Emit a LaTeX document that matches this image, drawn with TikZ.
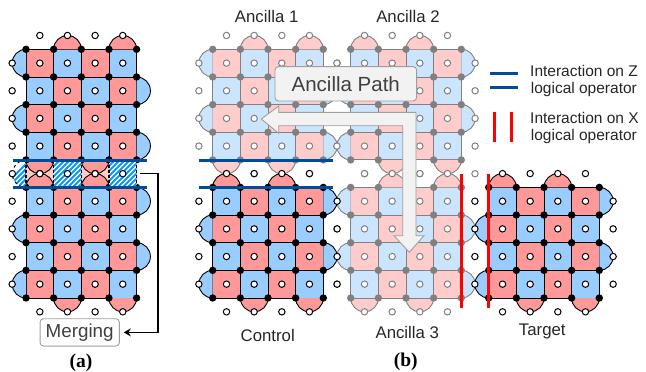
\documentclass[tikz,border=0pt]{standalone}
\usepackage{fontspec}
\setmainfont{Liberation Sans}
\newfontfamily\capfont{Liberation Serif}
\usetikzlibrary{arrows.meta}
\definecolor{patchred}{HTML}{FF9999}
\definecolor{patchblue}{HTML}{99CCFF}
\definecolor{palered}{HTML}{FFCCCC}
\definecolor{paleblue}{HTML}{CCE5FF}
\definecolor{edgegray}{HTML}{808080}
\definecolor{zblue}{HTML}{004C99}
\definecolor{boxfill}{HTML}{F2F2F2}
\definecolor{boxtext}{HTML}{404040}
\definecolor{hatchblue}{HTML}{0A96FF}
\tikzset{
  dataq/.style={circle,draw=#1,fill=white,line width=1pt,minimum size=6.4pt,inner sep=0pt},
  measq/.style={circle,fill=#1,minimum size=7.4pt,inner sep=0pt},
  zline/.style={zblue,line width=3pt},
  xline/.style={red,line width=3pt},
  label/.style={text=black!85,font=\fontsize{16.8}{18}\selectfont},
  legendtext/.style={text=black!85,font=\fontsize{15.5}{17}\selectfont,anchor=west,inner sep=0pt},
  subcap/.style={font=\capfont\bfseries\fontsize{19.5}{21}\selectfont},
  hatchline/.style={hatchblue,line width=2pt},
  pathbox/.style={draw=black!38,fill=boxfill,rounded corners=3.5pt,line width=0.9pt,text=boxtext,inner sep=0pt},
  mergearrow/.style={-{Stealth[length=7pt,width=8pt]},line width=1.6pt,shorten >=4pt}
}
\newcommand{\qstep}{27.65}
\newcommand{\qhalf}{13.82}
% x0, y0, parity, red, blue, edge
\newcommand{\surfacepatch}[6]{
  \foreach \rowi in {0,...,3} {
    \foreach \coli in {0,...,3} {
      \pgfmathtruncatemacro{\cellkind}{mod(\rowi+\coli+#3,2)}
      \ifnum\cellkind=0 \def\cellcol{#4}\else\def\cellcol{#5}\fi
      \draw [#6,fill=\cellcol,line width=0.9pt] ({#1+\coli*\qstep},{-#2-\rowi*\qstep}) rectangle ++(\qstep,-\qstep);
    }
    \pgfmathtruncatemacro{\sidekind}{mod(\rowi+#3,2)}
    \ifnum\sidekind=0
      \draw [#6,fill=#5,line width=0.9pt] ({#1},{-#2-\rowi*\qstep}) arc [start angle=90,end angle=270,radius=\qhalf pt];
      \draw [#6,fill=#4,line width=0.9pt] ({#1+\rowi*\qstep},{-#2-4*\qstep}) arc [start angle=180,end angle=360,radius=\qhalf pt];
    \else
      \draw [#6,fill=#5,line width=0.9pt] ({#1+4*\qstep},{-#2-\rowi*\qstep}) arc [start angle=90,end angle=-90,radius=\qhalf pt];
      \draw [#6,fill=#4,line width=0.9pt] ({#1+\rowi*\qstep},{-#2}) arc [start angle=180,end angle=0,radius=\qhalf pt];
    \fi
  }
  \foreach \rowi in {0,...,4} {
    \foreach \coli in {0,...,4} {
      \node [measq=#6] at ({#1+\coli*\qstep},{-#2-\rowi*\qstep}) {};
    }
  }
  \foreach \rowi in {0,...,3} {
    \node [dataq=#6] at ({#1-\qhalf},{-#2-\qhalf-\rowi*\qstep}) {};
    \node [dataq=#6] at ({#1+\qhalf+\rowi*\qstep},{-#2+\qhalf}) {};
    \node [dataq=#6] at ({#1+\qhalf+\rowi*\qstep},{-#2-4*\qstep-\qhalf}) {};
    \foreach \coli in {0,...,3} {
      \node [dataq=#6] at ({#1+\qhalf+\coli*\qstep},{-#2-\qhalf-\rowi*\qstep}) {};
    }
  }
}
\newcommand{\rightdots}[3]{
  \foreach \rowi in {0,...,3} {
    \node [dataq=#3] at ({#1+4*\qstep+\qhalf},{-#2-\qhalf-\rowi*\qstep}) {};
  }
}
\begin{document}
\begin{tikzpicture}[x=1pt,y=1pt]
  \useasboundingbox (0,0) rectangle (646,-372);

  % (a)
  \fill [palered] (26,-160) rectangle (136.6,-187.5);
  \surfacepatch{26}{49.3}{0}{patchred}{patchblue}{black}
  \surfacepatch{26}{187.4}{1}{patchred}{patchblue}{black}
  \fill [white] (53.65,-160) rectangle ++(27.65,-27.4);
  \fill [white] (108.95,-160) rectangle ++(27.65,-27.4);
  \fill [white] (26,-160) arc [start angle=90,end angle=270,radius=13.75pt];
  \begin{scope}
    \clip (53.65,-160) rectangle ++(27.65,-27.4) (108.95,-160) rectangle ++(27.65,-27.4)
      (26,-160) arc [start angle=90,end angle=270,radius=13.75pt];
    \foreach \hatchx in {0,5,...,170} {
      \draw [hatchline] ({\hatchx},-190) -- ++(33,33);
    }
  \end{scope}
  \draw [black,dashed,line width=0.9pt] (26,-160) arc [start angle=90,end angle=270,radius=13.75pt];
  \foreach \coli in {0,...,4} {
    \draw [black,line width=1.2pt,dash pattern=on 3pt off 2pt] ({26+\coli*\qstep},-160) -- ++(0,-27.4);
  }
  \foreach \coli in {0,...,3} {
    \node [dataq=black] at ({26+\qhalf+\coli*\qstep},-173.7) {};
  }
  \node [dataq=black] at (12.3,-173.7) {};
  \draw [zline] (12.5,-160) -- (147,-160);
  \draw [zline] (12.5,-187.3) -- (147,-187.3);

  % (b)
  \surfacepatch{212.7}{49.3}{0}{palered}{paleblue}{edgegray}
  \rightdots{212.7}{49.3}{edgegray}
  \surfacepatch{350.7}{49.3}{1}{palered}{paleblue}{edgegray}
  \rightdots{350.7}{49.3}{edgegray}
  \surfacepatch{350.7}{187.4}{0}{palered}{paleblue}{edgegray}
  \node [dataq=edgegray] at (475,-173.7) {};
  \surfacepatch{212.7}{187.4}{1}{patchred}{patchblue}{black}
  \rightdots{212.7}{187.4}{black}
  \surfacepatch{488.7}{187.4}{1}{patchred}{patchblue}{black}
  \rightdots{488.7}{187.4}{black}

  \draw [zline] (198.7,-160) -- (333,-160);
  \draw [zline] (198.7,-187.3) -- (333,-187.3);
  \draw [xline] (461.2,-174) -- (461.2,-308.3);
  \draw [xline] (488.7,-174) -- (488.7,-308.3);

  \draw [draw=black!38,fill=boxfill,line width=0.9pt] (261.3,-119) -- (278.7,-106) -- (278.7,-112.3) -- (416,-112.3) -- (416,-235.7)
    -- (424,-235.7) -- (409.3,-252.3) -- (394,-235.7) -- (402.7,-235.7) -- (402.7,-125.7) -- (278.7,-125.7) -- (278.7,-133.3) -- cycle;
  \node (ancillapath) [pathbox,minimum width=141.7pt,minimum height=34.3pt,font=\fontsize{20.5}{22}\selectfont] at (345.8,-83.8) {Ancilla Path};

  \node (ancillaone) [label] at (266.7,-16.7) {Ancilla 1};
  \node (ancillatwo) [label] at (408,-16.7) {Ancilla 2};
  \node (control) [label] at (267.7,-335) {Control};
  \node (ancillathree) [label] at (407.3,-332.7) {Ancilla 3};
  \node (target) [label] at (542.3,-331) {Target};

  % legend
  \draw [zline] (490,-73.3) -- (517.7,-73.3);
  \draw [zline] (490,-87.3) -- (517.7,-87.3);
  \draw [xline] (494.7,-111.7) -- (494.7,-142.3);
  \draw [xline] (511.7,-111.7) -- (511.7,-142.3);
  \node (legendza) [legendtext] at (530,-70.7) {Interaction on Z};
  \node (legendzb) [legendtext] at (530.7,-89.3) {logical operator};
  \node (legendxa) [legendtext] at (530,-117.7) {Interaction on X};
  \node (legendxb) [legendtext] at (530.7,-136.7) {logical operator};

  % merging
  \node (merging) [pathbox,fill=white,minimum width=79.3pt,minimum height=27.3pt,font=\fontsize{18.8}{20}\selectfont] at (79.7,-332.4) {Merging};
  \coordinate (mergestart) at (140,-173.3);
  \coordinate (mergecorner) at (157.7,-332.4);
  \draw [mergearrow] (mergestart) -| (mergecorner) -- (merging);

  \node (capa) [subcap] at (81,-362.5) {(a)};
  \node (capb) [subcap] at (405.7,-361.5) {(b)};
\end{tikzpicture}
\end{document}
